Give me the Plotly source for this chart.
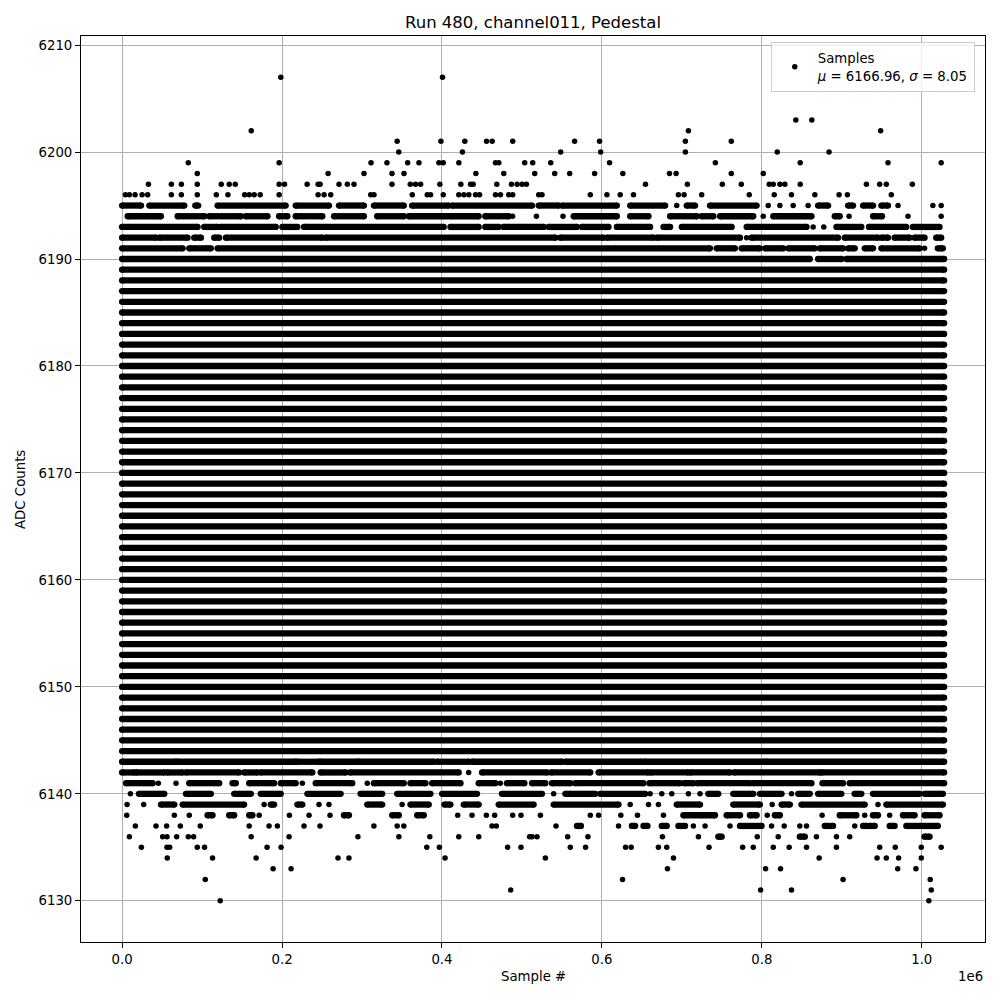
import plotly.graph_objects as go

# ---------------- data ----------------
TITLE = "Run 480, channel011, Pedestal"
X_LABEL = "Sample #"
Y_LABEL = "ADC Counts"
LEGEND_LABEL = "Samples<br><i>μ</i> = 6166.96, <i>σ</i> = 8.05"

X_SCALE = 1e6                      # x values below are in units of 1e6 samples
x_first = 0.0
x_last = 1.028

x_tick_vals = [0.0, 0.2, 0.4, 0.6, 0.8, 1.0]
x_tick_text = ["0.0", "0.2", "0.4", "0.6", "0.8", "1.0"]
y_tick_vals = [6130, 6140, 6150, 6160, 6170, 6180, 6190, 6200, 6210]

# ADC levels that are hit continuously over the whole run
dense_levels = [6144, 6145, 6146, 6147, 6148, 6149, 6150, 6151, 6152, 6153,
                6154, 6155, 6156, 6157, 6158, 6159, 6160, 6161, 6162, 6163,
                6164, 6165, 6166, 6167, 6168, 6169, 6170, 6171, 6172, 6173,
                6174, 6175, 6176, 6177, 6178, 6179, 6180, 6181, 6182, 6183,
                6184, 6185, 6186, 6187, 6188, 6189]

# partially filled levels: (start, end) runs of samples or single samples
seg_6190 = [(0, 0.86), (0.8704, 0.8995), (0.9058, 1.028)]
seg_6191 = [(0, 0.0757), (0.084, 0.111), (0.1194, 0.7352), (0.7435, 0.7664), (0.7747, 0.7976),
            (0.8039, 0.8268), (0.833, 0.8663), (0.8725, 0.9016), (0.9079, 0.9162), (0.9287, 0.9391),
            (0.9495, 0.9973), 1.0035, (1.0201, 1.0264)]
seg_6192 = [(0, 0.0424), (0.0466, 0.0819), (0.0902, 0.0986), (0.1152, 0.1214), (0.1298, 0.2504),
            (0.2546, 0.5418), (0.548, 0.6021), (0.6063, 0.6645), (0.6687, 0.7727), 0.781,
            (0.7872, 0.8954), (0.9037, 0.9453), (0.9495, 0.9578), (0.9661, 0.9848), (0.9911, 1.0035),
            (1.0181, 1.0243)]
seg_6193 = [(0, 0.0944), (0.1027, 0.1194), (0.1235, 0.1922), (0.2004, 0.2192), (0.2275, 0.4022),
            (0.4106, 0.4459), (0.4542, 0.4709), (0.4771, 0.5272), (0.5335, 0.5688), (0.5751, 0.6083),
            (0.6187, 0.6603), (0.677, 0.6853), (0.6999, 0.7623), (0.781, 0.8559), 0.8642, 0.8775,
            (0.8933, 0.9245), (0.934, 0.9807), (0.989, 1.0223)]
seg_6194 = [(0.007, 0.0486), (0.0694, 0.1027), (0.109, 0.1485), (0.1547, 0.1818), (0.1963, 0.2067),
            (0.2171, 0.2504), (0.265, 0.3024), (0.319, 0.3523), (0.3586, 0.4459), (0.4542, 0.4834),
            0.4883, 0.5181, 0.5514, (0.5647, 0.6187), (0.6354, 0.6583), (0.6853, 0.7186),
            (0.7248, 0.7394), (0.7477, 0.7893), 0.8018, (0.8143, 0.8621), (0.8912, 0.8974), 0.9091,
            (0.9391, 0.9503), 0.9828, 1.0243]
seg_6195 = [(0, 0.0237), (0.0341, 0.0778), (0.0915, 0.0952), (0.1194, 0.2046), (0.2171, 0.2587),
            (0.2712, 0.3024), (0.3149, 0.3523), (0.3627, 0.4085), (0.4126, 0.5127), (0.521, 0.546),
            (0.5501, 0.6187), (0.6354, 0.6791), 0.6936, (0.7061, 0.7165), (0.7352, 0.7935), 0.808,
            0.8226, 0.8392, 0.8579, (0.8704, 0.8829), (0.9079, 0.9141), (0.9266, 0.9391),
            (0.9495, 0.9578), 0.9703, 1.0139, 1.0243]
pts_6196 = [0.0041, 0.0091, 0.0162, 0.025, 0.032, 0.0616, 0.0741, 0.094, 0.1178, 0.1323, 0.1532,
            0.159, 0.1652, 0.1727, 0.1964, 0.2451, 0.2526, 0.2609, 0.3109, 0.315, 0.3629, 0.3816,
            0.3858, 0.4016, 0.4211, 0.4274, 0.4336, 0.442, 0.447, 0.4669, 0.4732, 0.4835, 0.4885,
            0.521, 0.5251, 0.5855, 0.6063, 0.6229, 0.6395, 0.6957, 0.7028, 0.7248, 0.7843, 0.8155,
            0.8371, 0.8663, 0.8966, 0.907, 0.9619]
pts_6197 = [0.0329, 0.0616, 0.0741, 0.094, 0.124, 0.134, 0.1415, 0.1964, 0.2031, 0.2314, 0.2451,
            0.2476, 0.2713, 0.2817, 0.29, 0.3375, 0.3604, 0.367, 0.3733, 0.3974, 0.4236, 0.4357,
            0.439, 0.4686, 0.4869, 0.494, 0.5002, 0.5056, 0.6545, 0.7069, 0.7506, 0.7743, 0.8093,
            0.8143, 0.8226, 0.8288, 0.848, 0.9308, 0.9474, 0.9557, 0.9882]
pts_6198 = [0.094, 0.2576, 0.3025, 0.3375, 0.3525, 0.4424, 0.4773, 0.516, 0.541, 0.5597, 0.5909,
            0.6262, 0.6845, 0.6928, 0.7618, 0.8018]
pts_6199 = [0.0828, 0.1964, 0.3113, 0.3312, 0.3571, 0.3712, 0.3962, 0.4016, 0.4211, 0.4669, 0.4711,
            0.5035, 0.5135, 0.536, 0.6096, 0.7419, 0.848, 0.9578, 1.0243]
pts_6200 = [0.346, 0.4256, 0.5484, 0.5984, 0.7044, 0.8193, 0.8841]
pts_6201 = [0.344, 0.3987, 0.4286, 0.4557, 0.4628, 0.4885, 0.5659, 0.5971, 0.7044, 0.7618]
pts_6202 = [0.1615, 0.7082, 0.9486]
pts_6203 = [0.8425, 0.8625]
pts_6207 = [0.1985, 0.4007]

seg_6143 = [(0, 0.0674), (0.0695, 0.2171), (0.2192, 0.2462), (0.2483, 0.2941), (0.2962, 0.3898),
            (0.394, 0.4334), (0.4376, 0.5501), (0.5543, 0.65), (0.6529, 0.8039), (0.8059, 1.028)]
seg_6142 = [(0, 0.0154), (0.0174, 0.0528), (0.0561, 0.0757), (0.0798, 0.1464), (0.1526, 0.1693),
            (0.1734, 0.2379), (0.2483, 0.2795), (0.2849, 0.421), 0.4334, (0.4501, 0.5314),
            (0.5364, 0.5855), (0.5959, 0.6583), (0.6612, 0.7082), (0.7111, 0.7602), (0.7652, 0.8725),
            (0.8746, 1.028)]
seg_6141 = [(0.005, 0.0382), 0.0453, 0.0674, (0.084, 0.1214), (0.1381, 0.1422), (0.1589, 0.1901),
            (0.1984, 0.2171), 0.2254, (0.2421, 0.2878), 0.3066, (0.3149, 0.3523), (0.3606, 0.3794),
            (0.3877, 0.4232), (0.4459, 0.4667), 0.473, (0.4813, 0.5031), (0.5127, 0.5293),
            (0.5376, 0.5605), (0.5667, 0.652), (0.6595, 0.6978), (0.7028, 0.7144), (0.7194, 0.7851),
            (0.7893, 0.8621), (0.8758, 0.9016), (0.9099, 1.028)]
seg_6140 = [0.0104, (0.021, 0.0528), (0.0798, 0.111), (0.1402, 0.161), (0.1734, 0.1984),
            (0.2317, 0.2733), (0.2982, 0.3253), (0.344, 0.3856), (0.4002, 0.4438), (0.475, 0.5251),
            0.5397, (0.5543, 0.5917), (0.5979, 0.6541), 0.6603, 0.6749, 0.6874, 0.7082, 0.7227,
            (0.7331, 0.7456), (0.7643, 0.7893), (0.7976, 0.8247), 0.8371, (0.8455, 0.86),
            (0.8704, 0.8995), (0.916, 0.9245), (0.939, 0.9973), (1.0035, 1.0265)]
seg_6139 = [0.0062, 0.027, (0.0486, 0.0653), (0.0757, 0.1526), 0.1776, (0.1859, 0.1901),
            (0.2192, 0.2254), 0.2462, 0.2587, (0.3066, 0.3253), 0.3502, (0.3606, 0.3835),
            (0.4031, 0.4106), (0.4272, 0.4459), (0.4709, 0.5147), (0.5397, 0.6208), 0.6354, 0.6583,
            0.6707, (0.6936, 0.7227), (0.7643, 0.7976), 0.813, (0.8247, 0.8351), (0.8496, 0.9287),
            0.9453, (0.9557, 1.0265)]
seg_6138 = [0.0058, 0.0653, 0.084, (0.1069, 0.1131), (0.1339, 0.1402), (0.1589, 0.163), 0.1714,
            0.2092, 0.2338, 0.26, (0.2774, 0.2837), (0.3378, 0.3461), (0.369, 0.3773), 0.4197,
            0.4376, 0.4555, 0.4659, 0.4884, 0.4988, 0.5231, 0.5855, 0.5959, 0.6237, 0.6445, 0.677,
            (0.7019, 0.7415), (0.756, 0.7727), (0.7851, 0.7935), 0.8068, (0.8163, 0.8226), 0.8754,
            (0.8974, 0.9183), 0.9287, (0.939, 0.9453), 0.9599, (0.9765, 0.9911), (1.0035, 1.0223)]
seg_6137 = [0.0166, 0.0424, 0.0557, 0.0728, 0.0977, 0.1589, 0.1838, 0.1942, 0.2275, 0.2475, 0.3149,
            0.344, 0.3523, 0.4626, 0.468, 0.5426, (0.5688, 0.5738), 0.6208, (0.6375, 0.6416),
            (0.652, 0.657), (0.6749, 0.6811), (0.6957, 0.704), 0.7144, 0.729, 0.7602, (0.7727, 0.7997),
            0.8122, 0.828, 0.8475, 0.8559, (0.8787, 0.8891), 0.9162, (0.9266, 0.9412), (0.9599, 0.9661),
            (0.9807, 1.0201)]
seg_6136 = [0.0091, 0.0507, 0.0561, 0.0682, 0.0828, 0.0894, 0.1614, 0.2088, 0.2949, 0.3461, 0.3848,
            0.421, 0.446, 0.5096, 0.5127, 0.5189, 0.5572, 0.5825, 0.6757, 0.7207, (0.7456, 0.7498),
            0.7943, 0.8205, (0.8475, 0.8538), 0.8683, 0.8933, 0.9099, (1.0035, 1.0098)]
pts_6135 = [0.0241, 0.0561, 0.0595, 0.094, 0.1031, 0.1813, 0.1988, 0.381, 0.3968, 0.4821, 0.4988,
            0.5605, 0.5796, 0.6296, 0.6366, 0.6707, 0.6811, 0.734, 0.776, 0.7893, 0.8143, 0.8342,
            0.8559, 0.8933, 0.9474, 0.9669, 0.9994, 1.0243]
pts_6134 = [0.0565, 0.1131, 0.1676, 0.27, 0.2837, 0.4039, 0.5293, 0.6895, 0.8717, 0.9441, 0.9557,
            0.9711, 0.9994]
pts_6133 = [0.1888, 0.2113, 0.682, 0.8047, 0.8234, 0.9699, 0.9927]
pts_6132 = [0.104, 0.6258, 0.9016, 1.0106]
pts_6131 = [0.4859, 0.7985, 0.8371, 1.0119]
pts_6130 = [0.1227, 1.0089]

sparse_rows = [
    (6207, pts_6207), (6203, pts_6203), (6202, pts_6202), (6201, pts_6201), (6200, pts_6200),
    (6199, pts_6199), (6198, pts_6198), (6197, pts_6197), (6196, pts_6196), (6195, seg_6195),
    (6194, seg_6194), (6193, seg_6193), (6192, seg_6192), (6191, seg_6191), (6190, seg_6190),
    (6143, seg_6143), (6142, seg_6142), (6141, seg_6141), (6140, seg_6140), (6139, seg_6139),
    (6138, seg_6138), (6137, seg_6137), (6136, seg_6136), (6135, pts_6135), (6134, pts_6134),
    (6133, pts_6133), (6132, pts_6132), (6131, pts_6131), (6130, pts_6130),
]

# ---------------- build marks ----------------
DOT = 5.5        # single sample dot
BAND = 6.3       # overlapping runs of samples look slightly thicker
line_x, line_y, cap_x, cap_y, dot_x, dot_y = [], [], [], [], [], []


def add_run(level, a, b):
    if b > a:
        line_x.extend([a * X_SCALE, b * X_SCALE, None])
        line_y.extend([level, level, None])
        cap_x.extend([a * X_SCALE, b * X_SCALE])
        cap_y.extend([level, level])
    else:
        dot_x.append(a * X_SCALE)
        dot_y.append(level)


for lvl in dense_levels:
    add_run(lvl, x_first, x_last)
for lvl, items in sparse_rows:
    for it in items:
        if isinstance(it, tuple):
            add_run(lvl, it[0], it[1])
        else:
            add_run(lvl, it, it)

fig = go.Figure()
fig.add_trace(go.Scatter(x=line_x, y=line_y, mode="lines", connectgaps=False,
                         line=dict(color="black", width=BAND), showlegend=False, hoverinfo="skip"))
fig.add_trace(go.Scatter(x=cap_x, y=cap_y, mode="markers",
                         marker=dict(color="black", size=BAND, line=dict(width=0)),
                         showlegend=False, hoverinfo="skip"))
fig.add_trace(go.Scatter(x=dot_x, y=dot_y, mode="markers",
                         marker=dict(color="black", size=DOT, line=dict(width=0)),
                         showlegend=False))
fig.add_trace(go.Scatter(x=[None], y=[None], mode="markers", name=LEGEND_LABEL,
                         marker=dict(color="black", size=DOT, line=dict(width=0))))

FONT = "DejaVu Sans"
axis_common = dict(showline=True, linecolor="black", linewidth=1, mirror=True,
                   ticks="outside", ticklen=5, tickcolor="black", tickwidth=1,
                   showgrid=True, gridcolor="#b0b0b0", gridwidth=1, zeroline=False,
                   tickfont=dict(family=FONT, size=13.3, color="black"))

fig.update_layout(
    width=1000, height=1000,
    margin=dict(l=81, r=15, t=36, b=58),
    paper_bgcolor="white", plot_bgcolor="white",
    font=dict(family=FONT, color="black"),
    title=dict(text=TITLE, x=0.5, xref="paper", xanchor="center",
               y=0.978, yref="container", yanchor="middle",
               font=dict(family=FONT, size=16.5, color="black")),
    xaxis=dict(range=[-0.0514 * X_SCALE, 1.0791 * X_SCALE],
               tickmode="array", tickvals=[v * X_SCALE for v in x_tick_vals], ticktext=x_tick_text,
               **axis_common),
    yaxis=dict(range=[6126.15, 6210.85], tickmode="array", tickvals=y_tick_vals,
               **axis_common),
    legend=dict(x=0.763, y=0.9934, xanchor="left", yanchor="top", itemwidth=36,
                bgcolor="rgba(255,255,255,0.8)", bordercolor="#cccccc", borderwidth=1,
                font=dict(family=FONT, size=13.3, color="black")),
    annotations=[
        dict(text=X_LABEL, xref="paper", yref="paper", x=0.5, y=-0.0386,
             xanchor="center", yanchor="middle", showarrow=False,
             font=dict(family=FONT, size=13.3, color="black")),
        dict(text=Y_LABEL, xref="paper", yref="paper", x=-0.0675, y=0.5, textangle=-90,
             xanchor="center", yanchor="middle", showarrow=False,
             font=dict(family=FONT, size=13.3, color="black")),
        dict(text="1e6", xref="paper", yref="paper", x=1.0, y=-0.0386,
             xanchor="right", yanchor="middle", showarrow=False,
             font=dict(family=FONT, size=13.3, color="black")),
    ],
)

fig.write_html("out.html", config={"displayModeBar": False},
               post_script="document.body.style.margin='0';document.body.style.overflow='hidden';")
